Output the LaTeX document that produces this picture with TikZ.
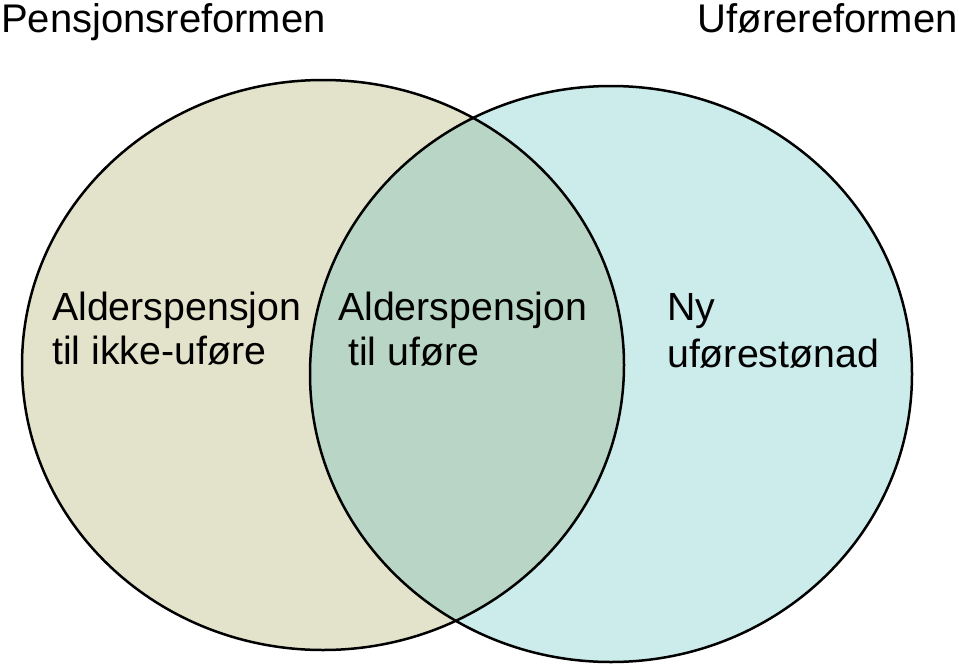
\documentclass[tikz,border=0pt]{standalone}
\usepackage{fontspec}
\setmainfont{Liberation Sans}
\definecolor{leftfill}{HTML}{E3E3CB}
\definecolor{rightfill}{HTML}{CCEBEB}
\definecolor{midfill}{HTML}{B8D5C5}
\begin{document}
\begin{tikzpicture}[x=1pt,y=-1pt,
  lbl/.style={anchor=base west,inner sep=0pt,font=\fontsize{39.3}{44}\selectfont},
  ttl/.style={anchor=base west,inner sep=0pt,font=\fontsize{40}{44}\selectfont},
  ring/.style={draw=black,line width=2.5pt}]
\useasboundingbox (0,0) rectangle (959,667);
\fill[leftfill] (323,365) ellipse [x radius=301,y radius=285];
\fill[rightfill] (611,374) ellipse [x radius=301,y radius=288];
\begin{scope}
  \clip (323,365) ellipse [x radius=301,y radius=285];
  \fill[midfill] (611,374) ellipse [x radius=301,y radius=288];
\end{scope}
\draw[ring] (323,365) ellipse [x radius=301,y radius=285];
\draw[ring] (611,374) ellipse [x radius=301,y radius=288];
\node[ttl] (t1) at (1,32) {Pensjonsreformen};
\node[ttl,anchor=base east] (t2) at (958,32) {Uførereformen};
\node[lbl] (a1) at (52,320) {Alderspensjon};
\node[lbl] (a2) at (52,364) {til ikke-uføre};
\node[lbl] (b1) at (338,320) {Alderspensjon};
\node[lbl] (b2) at (348,365) {til uføre};
\node[lbl] (c1) at (667,320) {Ny};
\node[lbl] (c2) at (667,367) {uførestønad};
\end{tikzpicture}
\end{document}
